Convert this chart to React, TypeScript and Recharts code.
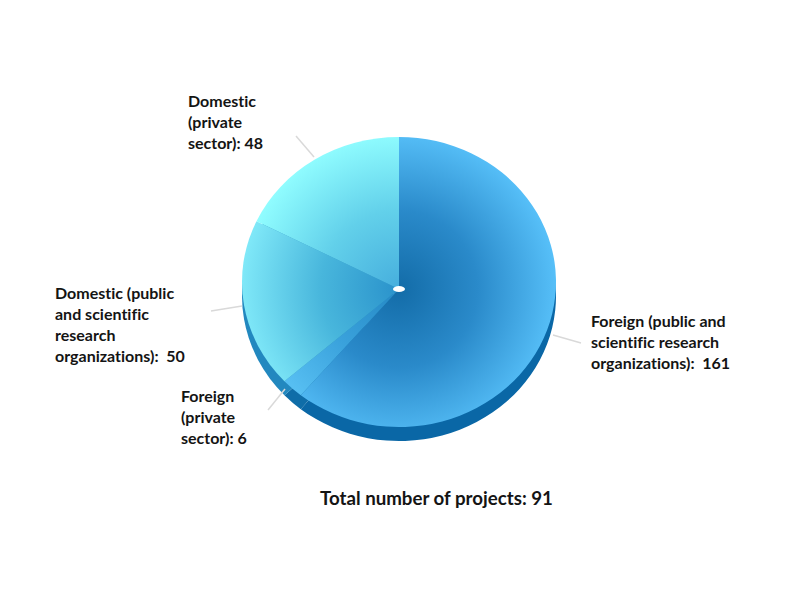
import React from "react";
import { Pie, PieChart } from "recharts";

const categories = [
  "Foreign (public and scientific research organizations)",
  "Foreign (private sector)",
  "Domestic (public and scientific research organizations)",
  "Domestic (private sector)",
];
const projects = [161, 6, 50, 48];
const labelLines = [
  ["Foreign (public and", "scientific research", "organizations):  161"],
  ["Foreign", "(private", "sector): 6"],
  ["Domestic (public", "and scientific", "research", "organizations):  50"],
  ["Domestic", "(private", "sector): 48"],
];
const totalLabel = "Total number of projects: 91";

const faceInner = ["#136ca8", "#2488c4", "#2a92cb", "#46aedd"];
const faceMiddle = ["#2a8aca", "#3aa2dc", "#48b6dc", "#62d0ea"];
const faceOuter = ["#56bff8", "#5cc4f6", "#7fe8f8", "#90fdff"];
const sideColors = ["#0a67a6", "#0f6da8", "#2288bf", "#2288bf"];

// where each callout sits on the page
const calloutLayout = [
  { x: 591, y: 327, line: [553, 335, 581, 343] },
  { x: 181, y: 402, line: [285, 389, 268, 410] },
  { x: 55, y: 299, line: [242, 306, 211, 311] },
  { x: 188, y: 107, line: [314, 157, 296, 136] },
];

const rim = { cx: 399, cy: 282, radius: 157, squash: 145 / 157, apexY: 289, depth: 14 };
const chartFont = "Lato, sans-serif";
const rad = Math.PI / 180;

const data = categories.map((name, i) => ({ name, value: projects[i] }));

function ellipticalSlice(props: any, apexY: number) {
  const { cx, cy, outerRadius, startAngle, endAngle } = props;
  const ry = outerRadius * rim.squash;
  const x0 = cx + outerRadius * Math.cos(startAngle * rad);
  const y0 = cy - ry * Math.sin(startAngle * rad);
  const x1 = cx + outerRadius * Math.cos(endAngle * rad);
  const y1 = cy - ry * Math.sin(endAngle * rad);
  const large = Math.abs(startAngle - endAngle) > 180 ? 1 : 0;
  return `M${cx},${apexY} L${x0},${y0} A${outerRadius},${ry} 0 ${large} 1 ${x1},${y1} Z`;
}

function FaceSlice(props: any) {
  return <path d={ellipticalSlice(props, rim.apexY)} fill={`url(#face${props.index})`} />;
}

function SideSlice(props: any) {
  return <path d={ellipticalSlice(props, props.cy)} fill={sideColors[props.index]} />;
}

function Callout(props: any) {
  const { x, y, line } = calloutLayout[props.index];
  return (
    <g>
      {/* labels sit above the sectors, so the centre hole goes here too */}
      {props.index === 0 && <ellipse cx={rim.cx} cy={rim.apexY} rx={6} ry={3} fill="#fff" />}
      <line x1={line[0]} y1={line[1]} x2={line[2]} y2={line[3]} stroke="#d9d9d9" strokeWidth={1.5} />
      <text
        x={x}
        y={y}
        fontFamily={chartFont}
        fontSize={16}
        fontWeight={700}
        fill="#141414"
        style={{ fontVariantLigatures: "none", whiteSpace: "pre" }}
      >
        {labelLines[props.index].map((t, i) => (
          <tspan key={i} x={x} dy={i === 0 ? 0 : 21}>
            {t}
          </tspan>
        ))}
      </text>
    </g>
  );
}

export default function App() {
  return (
    <div style={{ position: "absolute", left: 0, top: 0, width: 800, height: 600, background: "#fff" }}>
      <PieChart width={800} height={600} margin={{ top: 0, right: 0, bottom: 0, left: 0 }}>
        <defs>
          {faceInner.map((c, i) => (
            <radialGradient
              key={i}
              id={`face${i}`}
              gradientUnits="userSpaceOnUse"
              cx={rim.cx}
              cy={rim.apexY}
              r={rim.radius}
            >
              <stop offset="0%" stopColor={c} />
              <stop offset="50%" stopColor={faceMiddle[i]} />
              <stop offset="100%" stopColor={faceOuter[i]} />
            </radialGradient>
          ))}
        </defs>
        <Pie
          data={data}
          dataKey="value"
          cx={rim.cx}
          cy={rim.cy + rim.depth}
          outerRadius={rim.radius}
          startAngle={90}
          endAngle={-270}
          stroke="none"
          shape={SideSlice}
          isAnimationActive={false}
        />
        <Pie
          data={data}
          dataKey="value"
          cx={rim.cx}
          cy={rim.cy}
          outerRadius={rim.radius}
          startAngle={90}
          endAngle={-270}
          stroke="none"
          shape={FaceSlice}
          label={Callout}
          labelLine={false}
          isAnimationActive={false}
        />
        <text
          x={320}
          y={505}
          fontFamily={chartFont}
          fontSize={18.7}
          fontWeight={700}
          fill="#141414"
          style={{ fontVariantLigatures: "none" }}
        >
          {totalLabel}
        </text>
      </PieChart>
    </div>
  );
}
